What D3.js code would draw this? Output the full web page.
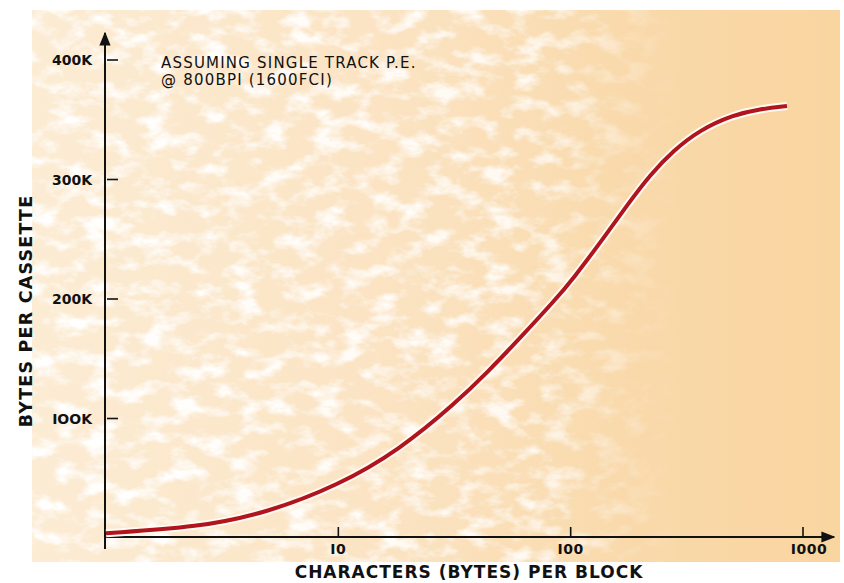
<!DOCTYPE html>
<html>
<head>
<meta charset="utf-8">
<script src="https://cdn.jsdelivr.net/npm/d3@7"></script>
<style>
  body { margin: 0; background: #fff; }
  text { font-family: "DejaVu Sans", "Liberation Sans", sans-serif; fill: #111; }
</style>
</head>
<body>
<div id="chart"></div>
<script>
// values (block size in chars, bytes per cassette)
const blockSizes = [1, 2.5, 4.9, 10, 18.4, 32, 44, 60, 86, 102, 138, 175, 220, 276, 360, 500, 653, 853];
const bytesPerCassette = [4000, 9000, 21000, 44000, 74000, 113000, 139000, 166500, 199500, 216500, 250500, 278500, 304000, 324000, 341500, 354000, 359000, 361500];
const xTicks = [10, 100, 1000];
const yTicks = [100000, 200000, 300000, 400000];
const yTickLabels = ["IOOK", "200K", "300K", "400K"];
const noteLines = ["ASSUMING SINGLE TRACK P.E.", "@ 800BPI (1600FCI)"];

const width = 844, height = 583;
const originX = 105, originY = 537;

const svg = d3.select("#chart").append("svg")
  .attr("width", width)
  .attr("height", height);

const defs = svg.append("defs");

// paper tint, lighter to the left
const grad = defs.append("linearGradient").attr("id", "paper");
grad.append("stop").attr("offset", "0%").attr("stop-color", "#fcecd4");
grad.append("stop").attr("offset", "45%").attr("stop-color", "#fbe3c2");
grad.append("stop").attr("offset", "75%").attr("stop-color", "#f9d9aa");
grad.append("stop").attr("offset", "100%").attr("stop-color", "#f9d5a0");

// mottled white blotches, fading out to the right
const mottle = defs.append("filter").attr("id", "mottle")
  .attr("x", 0).attr("y", 0).attr("width", 1).attr("height", 1);
mottle.append("feTurbulence")
  .attr("type", "fractalNoise")
  .attr("baseFrequency", "0.035 0.06")
  .attr("numOctaves", 4)
  .attr("seed", 7);
mottle.append("feColorMatrix")
  .attr("type", "matrix")
  .attr("values", "0 0 0 0 1  0 0 0 0 1  0 0 0 0 1  3.4 0 0 0 -1.55");

const fade = defs.append("linearGradient").attr("id", "fade");
fade.append("stop").attr("offset", "0%").attr("stop-color", "#fff").attr("stop-opacity", 1);
fade.append("stop").attr("offset", "62%").attr("stop-color", "#fff").attr("stop-opacity", 0.8);
fade.append("stop").attr("offset", "80%").attr("stop-color", "#fff").attr("stop-opacity", 0);
defs.append("mask").attr("id", "fadeMask")
  .append("rect")
  .attr("x", 30).attr("y", 10).attr("width", 810).attr("height", 552)
  .attr("fill", "url(#fade)");

svg.append("rect")
  .attr("x", 32).attr("y", 10)
  .attr("width", 808).attr("height", 552)
  .attr("fill", "url(#paper)");

svg.append("g").attr("mask", "url(#fadeMask)")
  .append("rect")
  .attr("x", 32).attr("y", 10)
  .attr("width", 808).attr("height", 552)
  .attr("filter", "url(#mottle)");

const x = d3.scaleLog()
  .domain([1, 1000])
  .range([106, 803]);

const y = d3.scaleLinear()
  .domain([0, 400000])
  .range([538, 60]);

// axes lines with arrows
defs.append("marker")
  .attr("id", "arrow")
  .attr("viewBox", "0 0 10 10")
  .attr("refX", 9).attr("refY", 5)
  .attr("markerWidth", 7).attr("markerHeight", 7)
  .attr("orient", "auto")
  .append("path")
  .attr("d", "M0,1 L10,5 L0,9 Z")
  .attr("fill", "#111");

svg.append("line")
  .attr("x1", originX).attr("y1", originY + 12)
  .attr("x2", originX).attr("y2", 33)
  .attr("stroke", "#111").attr("stroke-width", 2)
  .attr("marker-end", "url(#arrow)");

svg.append("line")
  .attr("x1", originX - 1).attr("y1", originY)
  .attr("x2", 834).attr("y2", originY)
  .attr("stroke", "#111").attr("stroke-width", 2)
  .attr("marker-end", "url(#arrow)");

// y ticks
const yt = svg.append("g").selectAll("g")
  .data(yTicks)
  .enter().append("g")
  .attr("transform", d => "translate(0," + y(d) + ")");

yt.append("line")
  .attr("x1", originX + 2).attr("x2", originX + 13)
  .attr("stroke", "#111").attr("stroke-width", 1.6);

yt.append("text")
  .attr("x", 92)
  .attr("dy", "0.36em")
  .attr("text-anchor", "end")
  .attr("font-size", 14)
  .attr("font-weight", "bold")
  .text((d, i) => yTickLabels[i]);

// x ticks
const xt = svg.append("g").selectAll("g")
  .data(xTicks)
  .enter().append("g")
  .attr("transform", d => "translate(" + x(d) + ",0)");

xt.append("line")
  .attr("y1", originY - 10).attr("y2", originY)
  .attr("stroke", "#111").attr("stroke-width", 1.6);

xt.append("text")
  .attr("x", (d, i) => i === 2 ? 6 : 0)
  .attr("y", originY + 17)
  .attr("text-anchor", "middle")
  .attr("font-size", 14)
  .attr("font-weight", "bold")
  .attr("letter-spacing", 0.5)
  .text(d => String(d).replace(/1/g, "I"));

// curve
const pts = blockSizes.map((b, i) => [b, bytesPerCassette[i]]);
const line = d3.line()
  .x(d => x(d[0]))
  .y(d => y(d[1]))
  .curve(d3.curveBasis);

svg.append("path")
  .attr("d", line(pts))
  .attr("fill", "none")
  .attr("stroke", "#fffaf2")
  .attr("stroke-width", 8);

svg.append("path")
  .attr("d", line(pts))
  .attr("fill", "none")
  .attr("stroke", "#b0141c")
  .attr("stroke-width", 4);

// note
svg.append("g").selectAll("text")
  .data(noteLines)
  .enter().append("text")
  .attr("x", 161)
  .attr("y", (d, i) => 68 + i * 17)
  .attr("font-size", 15)
  .attr("letter-spacing", 1.2)
  .text(d => d);

// axis titles
svg.append("text")
  .attr("x", 469).attr("y", 578)
  .attr("text-anchor", "middle")
  .attr("font-size", 17)
  .attr("font-weight", "bold")
  .attr("letter-spacing", 1)
  .text("CHARACTERS (BYTES) PER BLOCK");

svg.append("text")
  .attr("transform", "translate(32,311) rotate(-90)")
  .attr("text-anchor", "middle")
  .attr("font-size", 17.5)
  .attr("font-weight", "bold")
  .attr("letter-spacing", 1.2)
  .text("BYTES PER CASSETTE");
</script>
</body>
</html>
